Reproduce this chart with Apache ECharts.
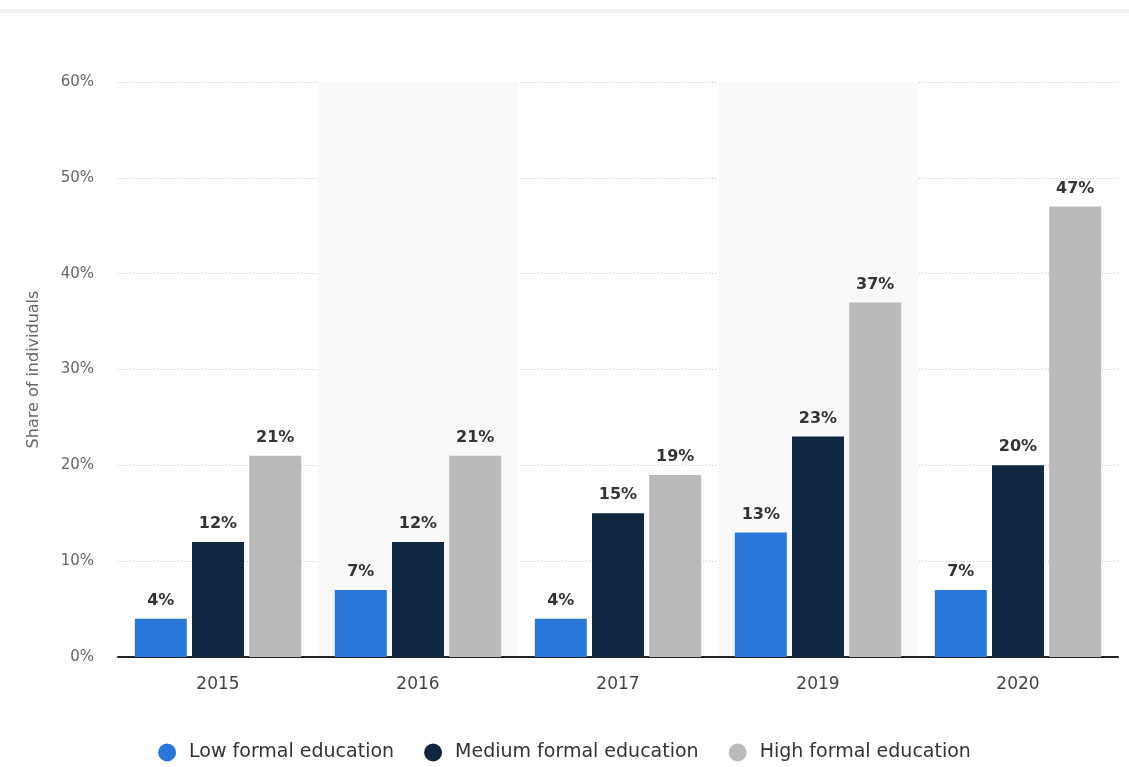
<!DOCTYPE html>
<html>
<head>
<meta charset="utf-8">
<script src="https://cdn.jsdelivr.net/npm/echarts@6/dist/echarts.min.js"></script>
<style>
  html, body { margin: 0; padding: 0; background: #ffffff; }
  #chart { width: 1129px; height: 767px; }
</style>
</head>
<body>
<div id="chart"></div>
<script>
// Years shown on the category axis
const years = ['2015', '2016', '2017', '2019', '2020'];
// Share of individuals (%) by level of formal education
const lowEducation = [4, 7, 4, 13, 7];
const mediumEducation = [12, 12, 15, 23, 20];
const highEducation = [21, 21, 19, 37, 47];
// Series names for the legend
const seriesNames = ['Low formal education', 'Medium formal education', 'High formal education'];
const seriesColors = ['#2a77dc', '#0f2741', '#bababa'];

const fontFamily = '"DejaVu Sans", Verdana, sans-serif';

const chart = echarts.init(document.getElementById('chart'));

function barSeries(name, values, color) {
  return {
    name: name,
    type: 'bar',
    data: values,
    barWidth: 52,
    barGap: '10%',
    itemStyle: { color: color },
    label: {
      show: true,
      position: 'top',
      distance: 10,
      formatter: '{c}%',
      color: '#333333',
      fontSize: 16,
      fontWeight: 'bold',
      fontFamily: fontFamily
    }
  };
}

chart.setOption({
  animation: false,
  backgroundColor: '#ffffff',
  graphic: [{
    type: 'rect',
    shape: { x: 0, y: 9, width: 1129, height: 4 },
    style: { fill: '#f1f1f4' },
    silent: true
  }],
  grid: { left: 118, right: 11, top: 82, bottom: 110 },
  legend: {
    bottom: 0,
    left: 'center',
    icon: 'circle',
    itemWidth: 18,
    itemHeight: 18,
    itemGap: 30,
    textStyle: {
      color: '#333333',
      fontSize: 19,
      fontFamily: fontFamily,
      padding: [0, 0, 0, 8]
    },
    data: seriesNames
  },
  xAxis: {
    type: 'category',
    data: years,
    axisLine: { show: true, lineStyle: { color: '#222222', width: 2 } },
    axisTick: { show: false },
    axisLabel: {
      color: '#444444',
      fontSize: 17,
      fontFamily: fontFamily,
      margin: 19
    },
    splitArea: {
      show: true,
      areaStyle: { color: ['rgba(255,255,255,0)', '#f9f9f9'] }
    }
  },
  yAxis: {
    type: 'value',
    min: 0,
    max: 60,
    interval: 10,
    name: 'Share of individuals',
    nameLocation: 'middle',
    nameGap: 76,
    nameTextStyle: { color: '#666666', fontSize: 16, fontFamily: fontFamily },
    axisLine: { show: false },
    axisTick: { show: false },
    axisLabel: {
      formatter: '{value}%',
      color: '#666666',
      fontSize: 15,
      fontFamily: fontFamily,
      margin: 24
    },
    splitLine: {
      show: true,
      lineStyle: { color: '#c4c4c4', type: [1, 2], width: 1 }
    }
  },
  series: [
    barSeries(seriesNames[0], lowEducation, seriesColors[0]),
    barSeries(seriesNames[1], mediumEducation, seriesColors[1]),
    barSeries(seriesNames[2], highEducation, seriesColors[2])
  ]
});
</script>
</body>
</html>
